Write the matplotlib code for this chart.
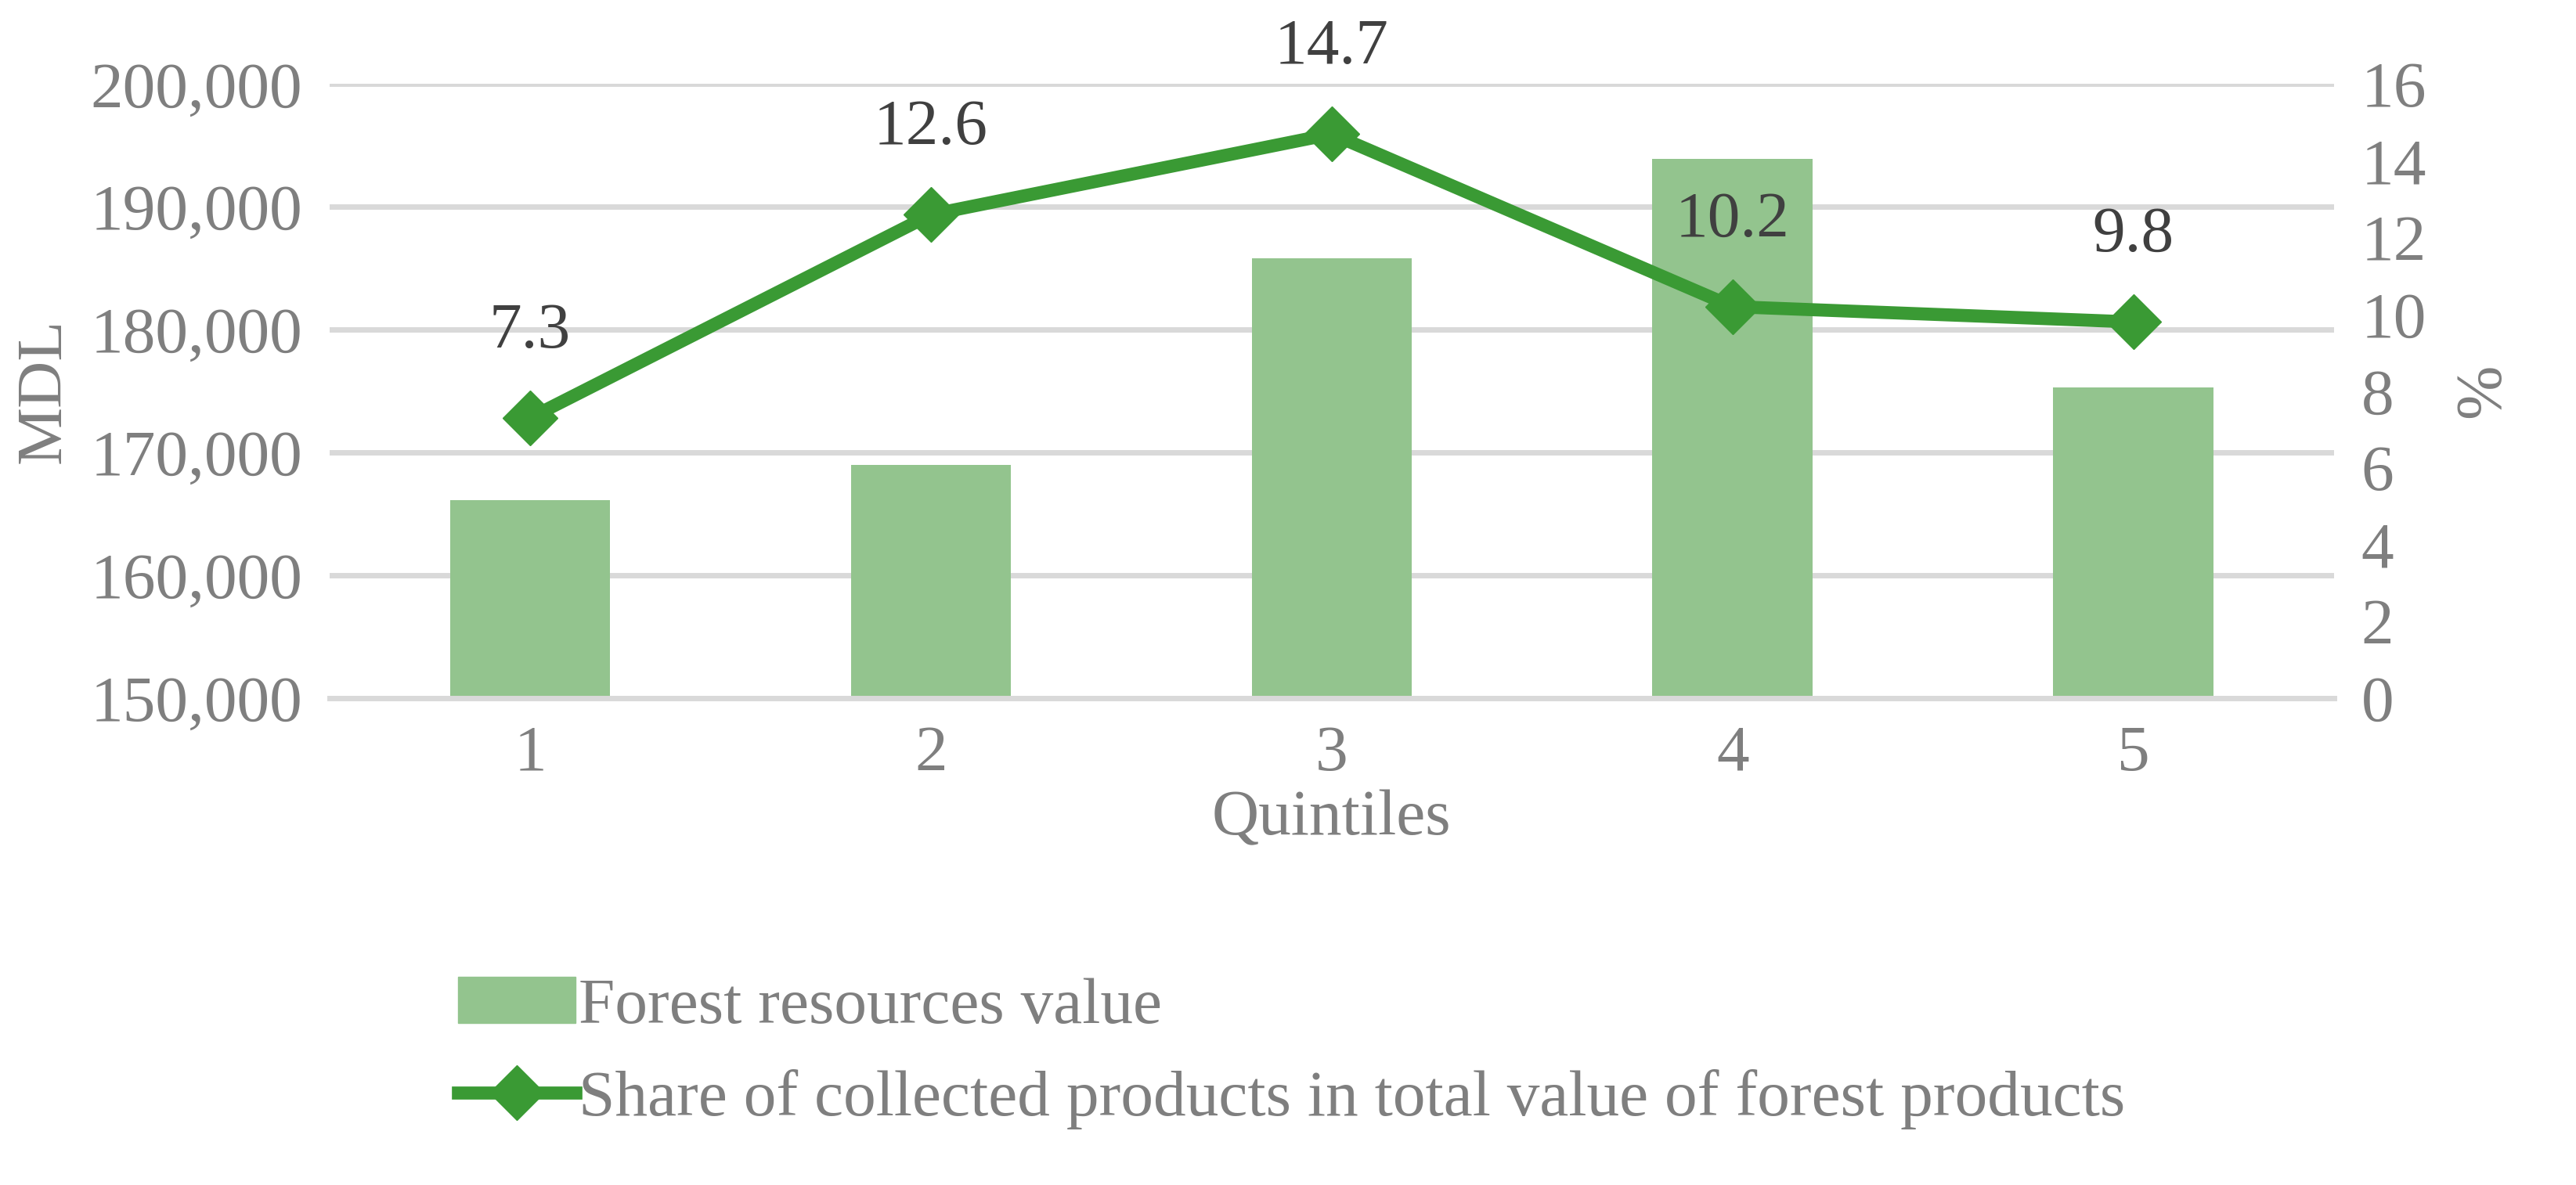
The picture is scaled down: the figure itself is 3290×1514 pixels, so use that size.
import matplotlib.pyplot as plt
from matplotlib.lines import Line2D
from matplotlib.patches import Patch

quintiles = ['1', '2', '3', '4', '5']
forest_value = [166100, 169000, 185800, 193900, 175300]
share_pct = [7.3, 12.6, 14.7, 10.2, 9.8]

plt.rcParams['font.family'] = ['Liberation Serif', 'DejaVu Serif']
txt = '#7f7f7f'
bar_col = '#93c48e'
line_col = '#3a9a34'
fs = 60

fig = plt.figure(figsize=(32.9, 15.14), dpi=100)
ax = fig.add_axes([0.128, 0.411, 0.778, 0.518])
x = range(len(quintiles))
ax.bar(x, forest_value, width=0.4, color=bar_col, zorder=2)
ax.set_ylim(150000, 200000)
ax.set_yticks(range(150000, 200001, 10000))
ax.set_yticklabels([f'{v:,}' for v in range(150000, 200001, 10000)])
ax.set_xlim(-0.5, 4.5)
ax.set_xticks(list(x))
ax.set_xticklabels(quintiles)
ax.grid(axis='y', color='#d9d9d9', linewidth=5, zorder=0)
ax.set_ylabel('MDL', fontsize=fs, color=txt, labelpad=15)
ax.set_xlabel('Quintiles', fontsize=fs, color=txt, labelpad=5)
for s in ax.spines.values():
    s.set_visible(False)
ax.spines['bottom'].set_visible(True)
ax.spines['bottom'].set_color('#d9d9d9')
ax.spines['bottom'].set_linewidth(5)
ax.tick_params(length=0, labelsize=fs, labelcolor=txt, pad=25)

ax2 = ax.twinx()
ax2.plot(x, share_pct, color=line_col, linewidth=12, marker='D', markersize=36, zorder=3)
for i, v in enumerate(share_pct):
    ax2.annotate(f'{v}', (i, v), xytext=(0, 52), textcoords='offset points',
                 ha='center', va='bottom', fontsize=fs, color='#404040')
ax2.set_ylim(0, 16)
ax2.set_yticks(range(0, 17, 2))
ax2.set_ylabel('%', fontsize=fs, color=txt, rotation=90, labelpad=25)
for s in ax2.spines.values():
    s.set_visible(False)
ax2.tick_params(length=0, labelsize=fs, labelcolor=txt, pad=25)

handles = [Patch(color=bar_col),
           Line2D([], [], color=line_col, linewidth=12, marker='D', markersize=36)]
labels = ['Forest resources value',
          'Share of collected products in total value of forest products']
fig.legend(handles, labels, loc='upper left', bbox_to_anchor=(0.155, 0.225),
           frameon=False, fontsize=fs, labelcolor=txt, handlelength=1.8,
           handletextpad=0.05, labelspacing=0.5)

fig.savefig('out.png', dpi=100)
